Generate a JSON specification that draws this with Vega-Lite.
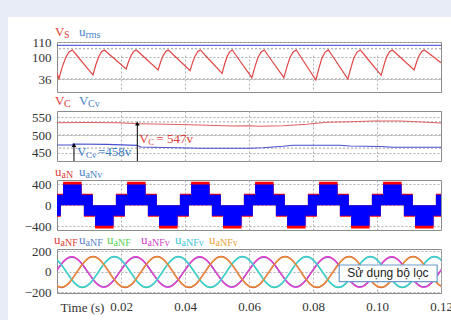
{
  "$schema": "https://vega.github.io/schema/vega-lite/v6.json",
  "background": "white",
  "padding": 0,
  "bounds": "flush",
  "spacing": 0,
  "config": {
    "view": {"stroke": "#8c8c8c", "strokeWidth": 1},
    "axis": {"labelFont": "Liberation Serif", "labelFontSize": 13, "labelColor": "#333333", "ticks": false, "domain": false, "labelOverlap": false, "labelSeparation": 0, "gridColor": "#b0b0b0", "gridDash": [2, 2], "gridWidth": 1},
    "text": {"font": "Liberation Serif", "baseline": "middle", "align": "left"}
  },
  "vconcat": [
    {"width": 451, "height": 17, "view": {"fill": "#e8ecf6", "stroke": null}, "data": {"values": [{}]}, "mark": {"type": "point", "opacity": 0}},
    {
      "bounds": "flush",
      "spacing": 49,
      "hconcat": [
        {"width": 8, "height": 303, "view": {"fill": "#e8ecf6", "stroke": null}, "data": {"values": [{}]}, "mark": {"type": "point", "opacity": 0}},
        {
          "bounds": "flush",
          "spacing": 19,
          "vconcat": [
            {"width": 384, "height": 6, "view": {"stroke": null}, "data": {"values": [{}]}, "mark": {"type": "point", "opacity": 0}},
            {
              "width": 384, "height": 50,
              "layer": [
                {"data": {"values": [{"g": 36}, {"g": 105.5}]}, "mark": {"type": "rule", "color": "#a0a0a0", "strokeDash": [2, 2], "strokeWidth": 1},
                 "encoding": {"y": {"field": "g", "type": "quantitative", "scale": {"domain": [36, 100, 110], "range": [37, 15, 0], "zero": false, "nice": false}, "axis": {"values": [36, 100, 110], "tickCount": 10, "title": null, "labelPadding": 6, "labelOverlap": false}}}},
                {"data": {"values": [
                  {"t": 0, "vs": 52.6}, {"t": 0.0006, "vs": 36.9}, {"t": 0.00165, "vs": 71.2}, {"t": 0.0027, "vs": 97.8}, {"t": 0.00375, "vs": 103.3}, {"t": 0.0048, "vs": 104.7},
                  {"t": 0.0066, "vs": 100}, {"t": 0.01125, "vs": 47.6}, {"t": 0.01214, "vs": 77.5}, {"t": 0.01303, "vs": 100.2}, {"t": 0.01391, "vs": 103.5}, {"t": 0.0148, "vs": 104.7},
                  {"t": 0.0173, "vs": 100}, {"t": 0.0216, "vs": 65.1}, {"t": 0.0224, "vs": 87.8}, {"t": 0.0232, "vs": 101.2}, {"t": 0.024, "vs": 103.8}, {"t": 0.0248, "vs": 104.7},
                  {"t": 0.0272, "vs": 100}, {"t": 0.0316, "vs": 62.2}, {"t": 0.0324, "vs": 86.0}, {"t": 0.0332, "vs": 101.1}, {"t": 0.034, "vs": 103.7}, {"t": 0.0348, "vs": 104.7},
                  {"t": 0.0371, "vs": 100}, {"t": 0.0416, "vs": 60.1}, {"t": 0.0424, "vs": 84.9}, {"t": 0.0432, "vs": 100.9}, {"t": 0.044, "vs": 103.7}, {"t": 0.0448, "vs": 104.7},
                  {"t": 0.0468, "vs": 100}, {"t": 0.0516, "vs": 52.6}, {"t": 0.0524, "vs": 80.4}, {"t": 0.0532, "vs": 100.5}, {"t": 0.054, "vs": 103.6}, {"t": 0.0548, "vs": 104.7},
                  {"t": 0.0563, "vs": 100}, {"t": 0.0609, "vs": 39.8}, {"t": 0.0619, "vs": 72.8}, {"t": 0.0628, "vs": 98.5}, {"t": 0.0638, "vs": 103.4}, {"t": 0.0648, "vs": 104.7},
                  {"t": 0.0663, "vs": 100}, {"t": 0.0709, "vs": 39.8}, {"t": 0.0719, "vs": 72.8}, {"t": 0.0728, "vs": 98.5}, {"t": 0.0738, "vs": 103.4}, {"t": 0.0748, "vs": 104.7},
                  {"t": 0.0762, "vs": 100}, {"t": 0.0809, "vs": 33.1}, {"t": 0.0819, "vs": 68.9}, {"t": 0.0828, "vs": 96.8}, {"t": 0.0838, "vs": 103.3}, {"t": 0.0848, "vs": 104.7},
                  {"t": 0.0863, "vs": 100}, {"t": 0.0909, "vs": 36.0}, {"t": 0.0919, "vs": 70.6}, {"t": 0.0928, "vs": 97.7}, {"t": 0.0938, "vs": 103.3}, {"t": 0.0948, "vs": 104.7},
                  {"t": 0.0966, "vs": 100}, {"t": 0.1013, "vs": 46.8}, {"t": 0.1022, "vs": 77.0}, {"t": 0.103, "vs": 100.1}, {"t": 0.1039, "vs": 103.5}, {"t": 0.1048, "vs": 104.7},
                  {"t": 0.1072, "vs": 100}, {"t": 0.1116, "vs": 62.2}, {"t": 0.1124, "vs": 86.0}, {"t": 0.1132, "vs": 101.1}, {"t": 0.114, "vs": 103.7}, {"t": 0.1148, "vs": 104.7},
                  {"t": 0.1177, "vs": 100}, {"t": 0.12, "vs": 83.4}
                ]},
                 "mark": {"type": "line", "color": "#e04545", "strokeWidth": 1.2, "clip": true},
                 "encoding": {
                   "x": {"field": "t", "type": "quantitative", "scale": {"domain": [0, 0.12], "nice": false, "zero": false}, "axis": {"values": [0.02, 0.04, 0.06, 0.08, 0.1], "tickCount": 20, "labels": false, "grid": true, "title": null}},
                   "y": {"field": "vs", "type": "quantitative"}}},
                {"data": {"values": [{"t": 0, "u": 107.8}, {"t": 0.12, "u": 107.8}]},
                 "mark": {"type": "line", "color": "#5a68d8", "strokeWidth": 1.3},
                 "encoding": {"x": {"field": "t", "type": "quantitative"}, "y": {"field": "u", "type": "quantitative"}}},
                {"data": {"values": [{}]}, "mark": {"type": "text", "text": "V", "color": "#e2403a", "fontSize": 13, "dx": -2, "dy": -10}, "encoding": {"x": {"datum": 0, "type": "quantitative"}, "y": {"datum": 110, "type": "quantitative"}}},
                {"data": {"values": [{}]}, "mark": {"type": "text", "text": "S", "color": "#e2403a", "fontSize": 10, "dx": 7, "dy": -7}, "encoding": {"x": {"datum": 0, "type": "quantitative"}, "y": {"datum": 110, "type": "quantitative"}}},
                {"data": {"values": [{}]}, "mark": {"type": "text", "text": "u", "color": "#4a86c8", "fontSize": 13, "dx": 22, "dy": -10}, "encoding": {"x": {"datum": 0, "type": "quantitative"}, "y": {"datum": 110, "type": "quantitative"}}},
                {"data": {"values": [{}]}, "mark": {"type": "text", "text": "rms", "color": "#4a86c8", "fontSize": 10, "dx": 28.5, "dy": -7}, "encoding": {"x": {"datum": 0, "type": "quantitative"}, "y": {"datum": 110, "type": "quantitative"}}}
              ]
            },
            {
              "width": 384, "height": 50,
              "layer": [
                {"data": {"values": [{"g": 463}, {"g": 500}, {"g": 537}]}, "mark": {"type": "rule", "color": "#a0a0a0", "strokeDash": [2, 2], "strokeWidth": 1},
                 "encoding": {"y": {"field": "g", "type": "quantitative", "scale": {"domain": [426.6, 567.8], "zero": false, "nice": false}, "axis": {"values": [450, 500, 550], "tickCount": 10, "title": null, "labelPadding": 6, "labelOverlap": false}}}},
                {"data": {"values": [
                  {"t": 0, "vc": 534.7}, {"t": 0.0094, "vc": 535.5}, {"t": 0.0188, "vc": 534.7}, {"t": 0.026, "vc": 531.9}, {"t": 0.0344, "vc": 530.2}, {"t": 0.0447, "vc": 528.2},
                  {"t": 0.055, "vc": 525.4}, {"t": 0.0603, "vc": 526.3}, {"t": 0.0634, "vc": 524.6}, {"t": 0.0706, "vc": 526.3}, {"t": 0.0781, "vc": 530.2}, {"t": 0.0844, "vc": 535.9},
                  {"t": 0.0916, "vc": 537.6}, {"t": 0.0988, "vc": 539.5}, {"t": 0.1072, "vc": 539.5}, {"t": 0.1125, "vc": 537.6}, {"t": 0.12, "vc": 533.9}
                ]},
                 "mark": {"type": "line", "color": "#e06060", "strokeWidth": 1.1},
                 "encoding": {
                   "x": {"field": "t", "type": "quantitative", "scale": {"domain": [0, 0.12], "nice": false, "zero": false}, "axis": {"values": [0.02, 0.04, 0.06, 0.08, 0.1], "tickCount": 20, "labels": false, "grid": true, "title": null}},
                   "y": {"field": "vc", "type": "quantitative"}}},
                {"data": {"values": [
                  {"t": 0, "vcv": 471.8}, {"t": 0.0048, "vcv": 471.8}, {"t": 0.005, "vcv": 474.6}, {"t": 0.0156, "vcv": 473.6}, {"t": 0.025, "vcv": 470.8}, {"t": 0.0262, "vcv": 466},
                  {"t": 0.0447, "vcv": 462.4}, {"t": 0.0603, "vcv": 462.4}, {"t": 0.0644, "vcv": 464.1}, {"t": 0.0706, "vcv": 468.1}, {"t": 0.0738, "vcv": 470.9}, {"t": 0.0884, "vcv": 470.9},
                  {"t": 0.0916, "vcv": 468.9}, {"t": 0.1009, "vcv": 467.5}, {"t": 0.105, "vcv": 465.3}, {"t": 0.12, "vcv": 465.3}
                ]},
                 "mark": {"type": "line", "color": "#4a50d0", "strokeWidth": 1.1},
                 "encoding": {"x": {"field": "t", "type": "quantitative"}, "y": {"field": "vcv", "type": "quantitative"}}},
                {"data": {"values": [{"t": 0.0251, "y0": 426.6, "y1": 532.5}, {"t": 0.0053, "y0": 426.6, "y1": 471.8}]},
                 "mark": {"type": "rule", "color": "#000000", "strokeWidth": 1},
                 "encoding": {"x": {"field": "t", "type": "quantitative"}, "y": {"field": "y0", "type": "quantitative"}, "y2": {"field": "y1"}}},
                {"data": {"values": [{"t": 0.0251, "y1": 532.5}, {"t": 0.0053, "y1": 471.8}]},
                 "mark": {"type": "point", "shape": "triangle-up", "size": 22, "filled": true, "color": "#000000", "opacity": 1},
                 "encoding": {"x": {"field": "t", "type": "quantitative"}, "y": {"field": "y1", "type": "quantitative"}}},
                {"data": {"values": [{}]}, "mark": {"type": "text", "text": "V", "color": "#e03c3c", "fontSize": 13, "dx": 2}, "encoding": {"x": {"datum": 0.0251, "type": "quantitative"}, "y": {"datum": 490, "type": "quantitative"}}},
                {"data": {"values": [{}]}, "mark": {"type": "text", "text": "C", "color": "#e03c3c", "fontSize": 9, "dx": 11, "dy": 3}, "encoding": {"x": {"datum": 0.0251, "type": "quantitative"}, "y": {"datum": 490, "type": "quantitative"}}},
                {"data": {"values": [{}]}, "mark": {"type": "text", "text": "= 547v", "color": "#e03c3c", "fontSize": 13, "dx": 19}, "encoding": {"x": {"datum": 0.0251, "type": "quantitative"}, "y": {"datum": 490, "type": "quantitative"}}},
                {"data": {"values": [{}]}, "mark": {"type": "text", "text": "V", "color": "#3a7cc4", "fontSize": 13, "dx": 3}, "encoding": {"x": {"datum": 0.0053, "type": "quantitative"}, "y": {"datum": 452, "type": "quantitative"}}},
                {"data": {"values": [{}]}, "mark": {"type": "text", "text": "Cv", "color": "#3a7cc4", "fontSize": 9, "dx": 12, "dy": 3}, "encoding": {"x": {"datum": 0.0053, "type": "quantitative"}, "y": {"datum": 452, "type": "quantitative"}}},
                {"data": {"values": [{}]}, "mark": {"type": "text", "text": "=458v", "color": "#3a7cc4", "fontSize": 13, "dx": 24}, "encoding": {"x": {"datum": 0.0053, "type": "quantitative"}, "y": {"datum": 452, "type": "quantitative"}}},
                {"data": {"values": [{}]}, "mark": {"type": "text", "text": "V", "color": "#e2403a", "fontSize": 13, "dx": -2, "dy": -10}, "encoding": {"x": {"datum": 0, "type": "quantitative"}, "y": {"datum": 567.8, "type": "quantitative"}}},
                {"data": {"values": [{}]}, "mark": {"type": "text", "text": "C", "color": "#e2403a", "fontSize": 10, "dx": 7, "dy": -7}, "encoding": {"x": {"datum": 0, "type": "quantitative"}, "y": {"datum": 567.8, "type": "quantitative"}}},
                {"data": {"values": [{}]}, "mark": {"type": "text", "text": "V", "color": "#4a86c8", "fontSize": 13, "dx": 22, "dy": -10}, "encoding": {"x": {"datum": 0, "type": "quantitative"}, "y": {"datum": 567.8, "type": "quantitative"}}},
                {"data": {"values": [{}]}, "mark": {"type": "text", "text": "Cv", "color": "#4a86c8", "fontSize": 10, "dx": 31, "dy": -7}, "encoding": {"x": {"datum": 0, "type": "quantitative"}, "y": {"datum": 567.8, "type": "quantitative"}}}
              ]
            },
            {
              "width": 384, "height": 50,
              "layer": [
                {"data": {"name": "inv", "values": [
                  {"t": 0, "bu": 200, "bd": -200, "ru": 218, "rd": -218},
                  {"t": 0.0012, "bu": 200, "bd": 0, "ru": 218, "rd": 0}, {"t": 0.0019, "bu": 395, "bd": 0, "ru": 445, "rd": 0}, {"t": 0.0077, "bu": 200, "bd": 0, "ru": 218, "rd": 0}, {"t": 0.0084, "bu": 200, "bd": -200, "ru": 218, "rd": -218},
                  {"t": 0.0112, "bu": 0, "bd": -200, "ru": 0, "rd": -218}, {"t": 0.0119, "bu": 0, "bd": -390, "ru": 0, "rd": -440}, {"t": 0.0177, "bu": 0, "bd": -200, "ru": 0, "rd": -218}, {"t": 0.0184, "bu": 200, "bd": -200, "ru": 218, "rd": -218},
                  {"t": 0.0212, "bu": 200, "bd": 0, "ru": 218, "rd": 0}, {"t": 0.0219, "bu": 395, "bd": 0, "ru": 445, "rd": 0}, {"t": 0.0277, "bu": 200, "bd": 0, "ru": 218, "rd": 0}, {"t": 0.0284, "bu": 200, "bd": -200, "ru": 218, "rd": -218},
                  {"t": 0.0312, "bu": 0, "bd": -200, "ru": 0, "rd": -218}, {"t": 0.0319, "bu": 0, "bd": -390, "ru": 0, "rd": -440}, {"t": 0.0377, "bu": 0, "bd": -200, "ru": 0, "rd": -218}, {"t": 0.0384, "bu": 200, "bd": -200, "ru": 218, "rd": -218},
                  {"t": 0.0412, "bu": 200, "bd": 0, "ru": 218, "rd": 0}, {"t": 0.0419, "bu": 395, "bd": 0, "ru": 445, "rd": 0}, {"t": 0.0477, "bu": 200, "bd": 0, "ru": 218, "rd": 0}, {"t": 0.0484, "bu": 200, "bd": -200, "ru": 218, "rd": -218},
                  {"t": 0.0512, "bu": 0, "bd": -200, "ru": 0, "rd": -218}, {"t": 0.0519, "bu": 0, "bd": -390, "ru": 0, "rd": -440}, {"t": 0.0577, "bu": 0, "bd": -200, "ru": 0, "rd": -218}, {"t": 0.0584, "bu": 200, "bd": -200, "ru": 218, "rd": -218},
                  {"t": 0.0612, "bu": 200, "bd": 0, "ru": 218, "rd": 0}, {"t": 0.0619, "bu": 395, "bd": 0, "ru": 445, "rd": 0}, {"t": 0.0677, "bu": 200, "bd": 0, "ru": 218, "rd": 0}, {"t": 0.0684, "bu": 200, "bd": -200, "ru": 218, "rd": -218},
                  {"t": 0.0712, "bu": 0, "bd": -200, "ru": 0, "rd": -218}, {"t": 0.0719, "bu": 0, "bd": -390, "ru": 0, "rd": -440}, {"t": 0.0777, "bu": 0, "bd": -200, "ru": 0, "rd": -218}, {"t": 0.0784, "bu": 200, "bd": -200, "ru": 218, "rd": -218},
                  {"t": 0.0812, "bu": 200, "bd": 0, "ru": 218, "rd": 0}, {"t": 0.0819, "bu": 395, "bd": 0, "ru": 445, "rd": 0}, {"t": 0.0877, "bu": 200, "bd": 0, "ru": 218, "rd": 0}, {"t": 0.0884, "bu": 200, "bd": -200, "ru": 218, "rd": -218},
                  {"t": 0.0912, "bu": 0, "bd": -200, "ru": 0, "rd": -218}, {"t": 0.0919, "bu": 0, "bd": -390, "ru": 0, "rd": -440}, {"t": 0.0977, "bu": 0, "bd": -200, "ru": 0, "rd": -218}, {"t": 0.0984, "bu": 200, "bd": -200, "ru": 218, "rd": -218},
                  {"t": 0.1012, "bu": 200, "bd": 0, "ru": 218, "rd": 0}, {"t": 0.1019, "bu": 395, "bd": 0, "ru": 445, "rd": 0}, {"t": 0.1077, "bu": 200, "bd": 0, "ru": 218, "rd": 0}, {"t": 0.1084, "bu": 200, "bd": -200, "ru": 218, "rd": -218},
                  {"t": 0.1112, "bu": 0, "bd": -200, "ru": 0, "rd": -218}, {"t": 0.1119, "bu": 0, "bd": -390, "ru": 0, "rd": -440}, {"t": 0.1177, "bu": 0, "bd": -200, "ru": 0, "rd": -218}, {"t": 0.1184, "bu": 200, "bd": -200, "ru": 218, "rd": -218},
                  {"t": 0.12, "bu": 200, "bd": -200, "ru": 218, "rd": -218}
                ]},
                 "mark": {"type": "area", "color": "#ff0000", "interpolate": "step-after", "opacity": 1},
                 "encoding": {
                   "x": {"field": "t", "type": "quantitative", "scale": {"domain": [0, 0.12], "nice": false, "zero": false}, "axis": {"values": [0.02, 0.04, 0.06, 0.08, 0.1], "tickCount": 20, "labels": false, "grid": true, "title": null}},
                   "y": {"field": "ru", "type": "quantitative", "scale": {"domain": [-470, 480], "zero": false, "nice": false}, "axis": {"values": [-400, 0, 400], "tickCount": 10, "title": null, "labelPadding": 6, "labelOverlap": false}},
                   "y2": {"field": "rd"}}},
                {"data": {"name": "inv"},
                 "mark": {"type": "area", "color": "#0000ff", "interpolate": "step-after", "opacity": 1},
                 "encoding": {"x": {"field": "t", "type": "quantitative"}, "y": {"field": "bu", "type": "quantitative"}, "y2": {"field": "bd"}}},
                {"data": {"values": [{}]}, "mark": {"type": "text", "text": "u", "color": "#e2403a", "fontSize": 13, "dx": -2, "dy": -8}, "encoding": {"x": {"datum": 0, "type": "quantitative"}, "y": {"datum": 480, "type": "quantitative"}}},
                {"data": {"values": [{}]}, "mark": {"type": "text", "text": "aN", "color": "#e2403a", "fontSize": 10, "dx": 4.5, "dy": -5}, "encoding": {"x": {"datum": 0, "type": "quantitative"}, "y": {"datum": 480, "type": "quantitative"}}},
                {"data": {"values": [{}]}, "mark": {"type": "text", "text": "u", "color": "#4a86c8", "fontSize": 13, "dx": 22, "dy": -8}, "encoding": {"x": {"datum": 0, "type": "quantitative"}, "y": {"datum": 480, "type": "quantitative"}}},
                {"data": {"values": [{}]}, "mark": {"type": "text", "text": "aNv", "color": "#4a86c8", "fontSize": 10, "dx": 28.5, "dy": -5}, "encoding": {"x": {"datum": 0, "type": "quantitative"}, "y": {"datum": 480, "type": "quantitative"}}}
              ]
            },
            {
              "width": 384, "height": 44,
              "layer": [
                {"data": {"name": "filt", "values": [
                  {"t": -0.0004, "r": -130.8, "b": 0, "g": 130.8, "m": 0, "c": 128.2, "o": -128.2},
                  {"t": 0.00127, "r": -151, "b": 73, "g": 75.5, "m": 74, "c": 74, "o": -148},
                  {"t": 0.00293, "r": -130.8, "b": 126.4, "g": 0, "m": 128.2, "c": 0, "o": -128.2},
                  {"t": 0.0046, "r": -75.5, "b": 146, "g": -75.5, "m": 148, "c": -74, "o": -74},
                  {"t": 0.00627, "r": 0, "b": 126.4, "g": -130.8, "m": 128.2, "c": -128.2, "o": 0},
                  {"t": 0.00793, "r": 75.5, "b": 73, "g": -151, "m": 74, "c": -148, "o": 74},
                  {"t": 0.0096, "r": 130.8, "b": 0, "g": -130.8, "m": 0, "c": -128.2, "o": 128.2},
                  {"t": 0.01127, "r": 151, "b": -73, "g": -75.5, "m": -74, "c": -74, "o": 148},
                  {"t": 0.01293, "r": 130.8, "b": -126.4, "g": 0, "m": -128.2, "c": 0, "o": 128.2},
                  {"t": 0.0146, "r": 75.5, "b": -146, "g": 75.5, "m": -148, "c": 74, "o": 74},
                  {"t": 0.01627, "r": 0, "b": -126.4, "g": 130.8, "m": -128.2, "c": 128.2, "o": 0},
                  {"t": 0.01793, "r": -75.5, "b": -73, "g": 151, "m": -74, "c": 148, "o": -74},
                  {"t": 0.0196, "r": -130.8, "b": 0, "g": 130.8, "m": 0, "c": 128.2, "o": -128.2},
                  {"t": 0.02127, "r": -151, "b": 73, "g": 75.5, "m": 74, "c": 74, "o": -148},
                  {"t": 0.02293, "r": -130.8, "b": 126.4, "g": 0, "m": 128.2, "c": 0, "o": -128.2},
                  {"t": 0.0246, "r": -75.5, "b": 146, "g": -75.5, "m": 148, "c": -74, "o": -74},
                  {"t": 0.02627, "r": 0, "b": 126.4, "g": -130.8, "m": 128.2, "c": -128.2, "o": 0},
                  {"t": 0.02793, "r": 75.5, "b": 73, "g": -151, "m": 74, "c": -148, "o": 74},
                  {"t": 0.0296, "r": 130.8, "b": 0, "g": -130.8, "m": 0, "c": -128.2, "o": 128.2},
                  {"t": 0.03127, "r": 151, "b": -73, "g": -75.5, "m": -74, "c": -74, "o": 148},
                  {"t": 0.03293, "r": 130.8, "b": -126.4, "g": 0, "m": -128.2, "c": 0, "o": 128.2},
                  {"t": 0.0346, "r": 75.5, "b": -146, "g": 75.5, "m": -148, "c": 74, "o": 74},
                  {"t": 0.03627, "r": 0, "b": -126.4, "g": 130.8, "m": -128.2, "c": 128.2, "o": 0},
                  {"t": 0.03793, "r": -75.5, "b": -73, "g": 151, "m": -74, "c": 148, "o": -74},
                  {"t": 0.0396, "r": -130.8, "b": 0, "g": 130.8, "m": 0, "c": 128.2, "o": -128.2},
                  {"t": 0.04127, "r": -151, "b": 73, "g": 75.5, "m": 74, "c": 74, "o": -148},
                  {"t": 0.04293, "r": -130.8, "b": 126.4, "g": 0, "m": 128.2, "c": 0, "o": -128.2},
                  {"t": 0.0446, "r": -75.5, "b": 146, "g": -75.5, "m": 148, "c": -74, "o": -74},
                  {"t": 0.04627, "r": 0, "b": 126.4, "g": -130.8, "m": 128.2, "c": -128.2, "o": 0},
                  {"t": 0.04793, "r": 75.5, "b": 73, "g": -151, "m": 74, "c": -148, "o": 74},
                  {"t": 0.0496, "r": 130.8, "b": 0, "g": -130.8, "m": 0, "c": -128.2, "o": 128.2},
                  {"t": 0.05127, "r": 151, "b": -73, "g": -75.5, "m": -74, "c": -74, "o": 148},
                  {"t": 0.05293, "r": 130.8, "b": -126.4, "g": 0, "m": -128.2, "c": 0, "o": 128.2},
                  {"t": 0.0546, "r": 75.5, "b": -146, "g": 75.5, "m": -148, "c": 74, "o": 74},
                  {"t": 0.05627, "r": 0, "b": -126.4, "g": 130.8, "m": -128.2, "c": 128.2, "o": 0},
                  {"t": 0.05793, "r": -75.5, "b": -73, "g": 151, "m": -74, "c": 148, "o": -74},
                  {"t": 0.0596, "r": -130.8, "b": 0, "g": 130.8, "m": 0, "c": 128.2, "o": -128.2},
                  {"t": 0.06127, "r": -151, "b": 73, "g": 75.5, "m": 74, "c": 74, "o": -148},
                  {"t": 0.06293, "r": -130.8, "b": 126.4, "g": 0, "m": 128.2, "c": 0, "o": -128.2},
                  {"t": 0.0646, "r": -75.5, "b": 146, "g": -75.5, "m": 148, "c": -74, "o": -74},
                  {"t": 0.06627, "r": 0, "b": 126.4, "g": -130.8, "m": 128.2, "c": -128.2, "o": 0},
                  {"t": 0.06793, "r": 75.5, "b": 73, "g": -151, "m": 74, "c": -148, "o": 74},
                  {"t": 0.0696, "r": 130.8, "b": 0, "g": -130.8, "m": 0, "c": -128.2, "o": 128.2},
                  {"t": 0.07127, "r": 151, "b": -73, "g": -75.5, "m": -74, "c": -74, "o": 148},
                  {"t": 0.07293, "r": 130.8, "b": -126.4, "g": 0, "m": -128.2, "c": 0, "o": 128.2},
                  {"t": 0.0746, "r": 75.5, "b": -146, "g": 75.5, "m": -148, "c": 74, "o": 74},
                  {"t": 0.07627, "r": 0, "b": -126.4, "g": 130.8, "m": -128.2, "c": 128.2, "o": 0},
                  {"t": 0.07793, "r": -75.5, "b": -73, "g": 151, "m": -74, "c": 148, "o": -74},
                  {"t": 0.0796, "r": -130.8, "b": 0, "g": 130.8, "m": 0, "c": 128.2, "o": -128.2},
                  {"t": 0.08127, "r": -151, "b": 73, "g": 75.5, "m": 74, "c": 74, "o": -148},
                  {"t": 0.08293, "r": -130.8, "b": 126.4, "g": 0, "m": 128.2, "c": 0, "o": -128.2},
                  {"t": 0.0846, "r": -75.5, "b": 146, "g": -75.5, "m": 148, "c": -74, "o": -74},
                  {"t": 0.08627, "r": 0, "b": 126.4, "g": -130.8, "m": 128.2, "c": -128.2, "o": 0},
                  {"t": 0.08793, "r": 75.5, "b": 73, "g": -151, "m": 74, "c": -148, "o": 74},
                  {"t": 0.0896, "r": 130.8, "b": 0, "g": -130.8, "m": 0, "c": -128.2, "o": 128.2},
                  {"t": 0.09127, "r": 151, "b": -73, "g": -75.5, "m": -74, "c": -74, "o": 148},
                  {"t": 0.09293, "r": 130.8, "b": -126.4, "g": 0, "m": -128.2, "c": 0, "o": 128.2},
                  {"t": 0.0946, "r": 75.5, "b": -146, "g": 75.5, "m": -148, "c": 74, "o": 74},
                  {"t": 0.09627, "r": 0, "b": -126.4, "g": 130.8, "m": -128.2, "c": 128.2, "o": 0},
                  {"t": 0.09793, "r": -75.5, "b": -73, "g": 151, "m": -74, "c": 148, "o": -74},
                  {"t": 0.0996, "r": -130.8, "b": 0, "g": 130.8, "m": 0, "c": 128.2, "o": -128.2},
                  {"t": 0.10127, "r": -151, "b": 73, "g": 75.5, "m": 74, "c": 74, "o": -148},
                  {"t": 0.10293, "r": -130.8, "b": 126.4, "g": 0, "m": 128.2, "c": 0, "o": -128.2},
                  {"t": 0.1046, "r": -75.5, "b": 146, "g": -75.5, "m": 148, "c": -74, "o": -74},
                  {"t": 0.10627, "r": 0, "b": 126.4, "g": -130.8, "m": 128.2, "c": -128.2, "o": 0},
                  {"t": 0.10793, "r": 75.5, "b": 73, "g": -151, "m": 74, "c": -148, "o": 74},
                  {"t": 0.1096, "r": 130.8, "b": 0, "g": -130.8, "m": 0, "c": -128.2, "o": 128.2},
                  {"t": 0.11127, "r": 151, "b": -73, "g": -75.5, "m": -74, "c": -74, "o": 148},
                  {"t": 0.11293, "r": 130.8, "b": -126.4, "g": 0, "m": -128.2, "c": 0, "o": 128.2},
                  {"t": 0.1146, "r": 75.5, "b": -146, "g": 75.5, "m": -148, "c": 74, "o": 74},
                  {"t": 0.11627, "r": 0, "b": -126.4, "g": 130.8, "m": -128.2, "c": 128.2, "o": 0},
                  {"t": 0.11793, "r": -75.5, "b": -73, "g": 151, "m": -74, "c": 148, "o": -74},
                  {"t": 0.1196, "r": -130.8, "b": 0, "g": 130.8, "m": 0, "c": 128.2, "o": -128.2},
                  {"t": 0.12127, "r": -151, "b": 73, "g": 75.5, "m": 74, "c": 74, "o": -148}
                ]},
                 "transform": [{"fold": ["r", "b", "g"], "as": ["s", "v"]}],
                 "mark": {"type": "line", "interpolate": "natural", "strokeWidth": 1.4, "clip": true},
                 "encoding": {
                   "x": {"field": "t", "type": "quantitative", "scale": {"domain": [0, 0.12], "nice": false, "zero": false},
                         "axis": {"values": [0.02, 0.04, 0.06, 0.08, 0.1, 0.12], "tickCount": 20, "format": ".2f", "grid": true, "labelPadding": 7, "labelFlush": false, "labelOverlap": false, "title": "Time (s)", "titleX": 3, "titleY": 14, "titleAlign": "left", "titleBaseline": "middle", "titleFont": "Liberation Serif", "titleFontSize": 13, "titleFontWeight": "normal", "titleColor": "#333333"}},
                   "y": {"field": "v", "type": "quantitative", "scale": {"domain": [-205, 224], "zero": false, "nice": false}, "axis": {"values": [-200, 0, 200], "tickCount": 10, "grid": true, "title": null, "labelPadding": 6, "labelOverlap": false}},
                   "color": {"field": "s", "type": "nominal", "scale": {"domain": ["r", "b", "g", "m", "c", "o"], "range": ["#d84040", "#4060d0", "#45d060", "#ee3ccb", "#3fcbe0", "#e8903c"]}, "legend": null}}},
                {"data": {"name": "filt"},
                 "transform": [{"fold": ["m", "c", "o"], "as": ["s", "v"]}],
                 "mark": {"type": "line", "interpolate": "natural", "strokeWidth": 1.4, "clip": true},
                 "encoding": {
                   "x": {"field": "t", "type": "quantitative"},
                   "y": {"field": "v", "type": "quantitative"},
                   "color": {"field": "s", "type": "nominal", "legend": null}}},
                {"data": {"values": [{}]}, "mark": {"type": "rect", "fill": "#ffffff", "stroke": "#6d9cc9", "strokeWidth": 1.2},
                 "encoding": {"x": {"datum": 0.0882, "type": "quantitative"}, "x2": {"datum": 0.1188}, "y": {"datum": 68, "type": "quantitative"}, "y2": {"datum": -95}}},
                {"data": {"values": [{}]}, "mark": {"type": "text", "text": "Sử dụng bộ lọc", "font": "Liberation Sans", "fontSize": 12, "color": "#222222", "align": "center"},
                 "encoding": {"x": {"datum": 0.1034, "type": "quantitative"}, "y": {"datum": -13, "type": "quantitative"}}},
                {"data": {"values": [{}]}, "mark": {"type": "text", "text": "u", "color": "#e0403a", "fontSize": 13, "dx": -3, "dy": -9}, "encoding": {"x": {"datum": 0, "type": "quantitative"}, "y": {"datum": 224, "type": "quantitative"}}},
                {"data": {"values": [{}]}, "mark": {"type": "text", "text": "aNF", "color": "#e0403a", "fontSize": 10, "dx": 3.5, "dy": -6}, "encoding": {"x": {"datum": 0, "type": "quantitative"}, "y": {"datum": 224, "type": "quantitative"}}},
                {"data": {"values": [{}]}, "mark": {"type": "text", "text": "u", "color": "#5b7fc7", "fontSize": 13, "dx": 22, "dy": -9}, "encoding": {"x": {"datum": 0, "type": "quantitative"}, "y": {"datum": 224, "type": "quantitative"}}},
                {"data": {"values": [{}]}, "mark": {"type": "text", "text": "aNF", "color": "#5b7fc7", "fontSize": 10, "dx": 28.5, "dy": -6}, "encoding": {"x": {"datum": 0, "type": "quantitative"}, "y": {"datum": 224, "type": "quantitative"}}},
                {"data": {"values": [{}]}, "mark": {"type": "text", "text": "u", "color": "#55d055", "fontSize": 13, "dx": 50, "dy": -9}, "encoding": {"x": {"datum": 0, "type": "quantitative"}, "y": {"datum": 224, "type": "quantitative"}}},
                {"data": {"values": [{}]}, "mark": {"type": "text", "text": "aNF", "color": "#55d055", "fontSize": 10, "dx": 56.5, "dy": -6}, "encoding": {"x": {"datum": 0, "type": "quantitative"}, "y": {"datum": 224, "type": "quantitative"}}},
                {"data": {"values": [{}]}, "mark": {"type": "text", "text": "u", "color": "#d23fc9", "fontSize": 13, "dx": 84, "dy": -9}, "encoding": {"x": {"datum": 0, "type": "quantitative"}, "y": {"datum": 224, "type": "quantitative"}}},
                {"data": {"values": [{}]}, "mark": {"type": "text", "text": "aNFv", "color": "#d23fc9", "fontSize": 10, "dx": 90.5, "dy": -6}, "encoding": {"x": {"datum": 0, "type": "quantitative"}, "y": {"datum": 224, "type": "quantitative"}}},
                {"data": {"values": [{}]}, "mark": {"type": "text", "text": "u", "color": "#3fc6d6", "fontSize": 13, "dx": 118, "dy": -9}, "encoding": {"x": {"datum": 0, "type": "quantitative"}, "y": {"datum": 224, "type": "quantitative"}}},
                {"data": {"values": [{}]}, "mark": {"type": "text", "text": "aNFv", "color": "#3fc6d6", "fontSize": 10, "dx": 124.5, "dy": -6}, "encoding": {"x": {"datum": 0, "type": "quantitative"}, "y": {"datum": 224, "type": "quantitative"}}},
                {"data": {"values": [{}]}, "mark": {"type": "text", "text": "u", "color": "#e8a33d", "fontSize": 13, "dx": 152, "dy": -9}, "encoding": {"x": {"datum": 0, "type": "quantitative"}, "y": {"datum": 224, "type": "quantitative"}}},
                {"data": {"values": [{}]}, "mark": {"type": "text", "text": "aNFv", "color": "#e8a33d", "fontSize": 10, "dx": 158.5, "dy": -6}, "encoding": {"x": {"datum": 0, "type": "quantitative"}, "y": {"datum": 224, "type": "quantitative"}}}
              ]
            }
          ]
        }
      ]
    }
  ]
}
